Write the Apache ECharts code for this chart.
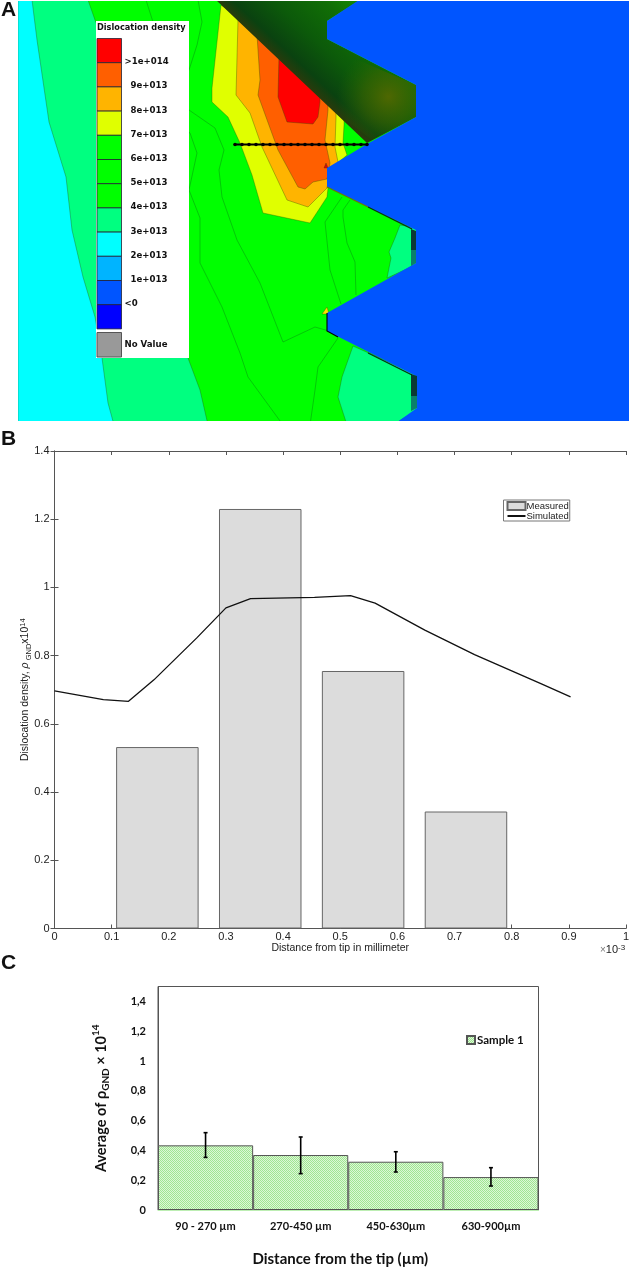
<!DOCTYPE html>
<html>
<head>
<meta charset="utf-8">
<style>html,body{margin:0;padding:0;background:#fff}#main{width:630px;height:1269px}</style>
<script src="https://cdn.jsdelivr.net/npm/echarts@6/dist/echarts.min.js"></script>
</head>
<body>
<div id="main"></div>
<script>
// panel A: contour bands, painted back to front
const bandColors = ['#00ffff', '#00ff80', '#00ff00', '#e0ff00', '#ffb400', '#ff5f00', '#ff0000'];
const bandOutlines = [
  [[18, 0], [640, 0], [640, 430], [18, 430]],
  [[32, 0], [37, 40], [49, 122], [66, 177], [72, 230], [83, 277], [95, 317], [102, 358], [108, 403], [114, 425], [640, 425], [640, 0]],
  [[88, 0], [95, 20], [118, 80], [188, 358], [200, 390], [208, 425], [640, 425], [640, 0]],
  [[221, 5], [212, 88], [212, 102], [228, 117], [240, 143], [252, 175], [263, 213], [310, 223], [327, 197], [330, 170], [347, 155], [343, 143], [344, 125], [344, 90]],
  [[238, 20], [236, 95], [250, 113], [262, 147], [287, 200], [308, 207], [327, 188], [330, 170], [338, 162], [335, 147], [336, 117], [336, 90]],
  [[257, 35], [260, 80], [258, 95], [278, 150], [298, 187], [305, 189], [313, 182], [327, 179], [330, 163], [325, 140], [328, 110], [328, 85]],
  [[279, 55], [278, 97], [287, 122], [313, 124], [318, 117], [320, 102], [320, 90]]
];
const toothColors = ['#00ff80', '#00ff80', '#ffe000', '#e00010'];
const toothOutlines = [
  [[400, 225], [395, 238], [389, 252], [391, 258], [387, 278], [420, 263], [420, 228]],
  [[353, 346], [342, 377], [338, 397], [347, 425], [393, 425], [420, 408], [420, 376]],
  [[322, 314], [327, 307], [329, 314]],
  [[324, 168], [326, 163], [328, 168]]
];
const contourLines = [
  [[146, 0], [153, 22], [165, 50]],
  [[198, 0], [202, 22], [197, 45], [189, 70], [180, 85]],
  [[180, 100], [189, 110], [215, 128], [224, 150], [219, 170], [222, 197], [237, 240], [260, 283], [283, 342], [315, 327], [329, 331]],
  [[180, 125], [190, 133], [197, 153], [189, 190], [200, 218], [200, 263], [222, 307], [240, 353], [248, 377], [283, 425]],
  [[342, 197], [325, 222], [330, 270], [341, 304]],
  [[350, 200], [343, 210], [343, 217], [347, 243], [355, 262], [356, 295]],
  [[338, 338], [318, 367], [315, 390], [310, 425]]
];
const faceOutline = [[216, 0], [367, 143], [416, 117], [416, 85], [327, 39], [327, 21], [360, 0]];
const oliveOutline = [[335, 50], [416, 85], [416, 117], [372, 140], [330, 108]];
const voidOutline = [[359, 0], [327, 21], [327, 39], [416, 85], [416, 117], [367, 144], [327, 168], [327, 187], [416, 230], [416, 263], [327, 313], [327, 331], [416, 376], [417, 408], [393, 425], [640, 425], [640, 0]];
const tipOutlines = [
  [[411, 229], [416, 231], [416, 250], [411, 250]],
  [[411, 250], [416, 250], [416, 263], [411, 266]],
  [[411, 374], [417, 376], [417, 396], [411, 396]],
  [[411, 396], [417, 396], [417, 408], [411, 411]]
];
const tipColors = ['#0a3a34', '#0a806a', '#0a3a34', '#0a806a'];
const edgeLines = [
  [[327, 187], [368, 207]],
  [[368, 207], [412, 229]],
  [[327, 313], [327, 331], [338, 337]],
  [[368, 353], [412, 375]]
];
const edgeColors = ['#6a7a00', '#0a2a10', '#000000', '#0a2a10'];
const scanX = [235, 242, 249, 256, 263, 270, 277, 284, 291, 298, 305, 312, 319, 326, 333, 340, 347, 354, 361, 367];
const scanY = 144.5;

const scaleTitle = 'Dislocation density';
const scaleColors = ['#ff0000', '#ff5f00', '#ffb400', '#e0ff00', '#00ff00', '#00ff00', '#00ff00', '#00ff80', '#00ffff', '#00b4ff', '#0055ff', '#0000ff'];
const scaleLabels = ['>1e+014', '9e+013', '8e+013', '7e+013', '6e+013', '5e+013', '4e+013', '3e+013', '2e+013', '1e+013', '<0'];

// panel B
const measuredX = [0.18, 0.36, 0.54, 0.72];
const measuredY = [0.532, 1.23, 0.755, 0.343];
const simulatedX = [0, 0.0855, 0.1295, 0.174, 0.249, 0.3, 0.343, 0.455, 0.518, 0.561, 0.648, 0.735, 0.852, 0.903];
const simulatedY = [0.697, 0.671, 0.666, 0.729, 0.852, 0.94, 0.967, 0.971, 0.976, 0.954, 0.875, 0.803, 0.717, 0.679];

// panel C
const sampleCats = ['90 - 270 µm', '270-450 µm', '450-630µm', '630-900µm'];
const sampleVals = [0.434, 0.369, 0.324, 0.221];
const sampleHigh = [0.519, 0.49, 0.391, 0.284];
const sampleLow = [0.353, 0.244, 0.255, 0.161];

const HELV = '"Liberation Sans", sans-serif';
const LATO = 'Lato, sans-serif';

// fine green dither of the bars in C
const tile = document.createElement('canvas');
tile.width = tile.height = 2;
const tc = tile.getContext('2d');
tc.fillStyle = '#dcf7d6';
tc.fillRect(0, 0, 2, 2);
tc.fillStyle = '#a0e592';
tc.fillRect(0, 0, 1, 1);
tc.fillRect(1, 1, 1, 1);

function polySeries(outlines, colors, stroke, z) {
  return {
    type: 'custom', xAxisIndex: 0, yAxisIndex: 0, z: z, clip: true, silent: true,
    data: outlines.map((o, i) => i),
    renderItem: (params, api) => ({
      type: 'polygon',
      shape: {points: outlines[params.dataIndex].map(p => api.coord(p))},
      style: {fill: colors[params.dataIndex], stroke: stroke, lineWidth: stroke ? 0.7 : 0}
    })
  };
}

// legend box of panel A
const scaleGraphics = [
  {type: 'rect', z: 100, shape: {x: 96, y: 21, width: 93, height: 337}, style: {fill: '#fff'}},
  {type: 'text', z: 101, x: 97, y: 28, style: {text: scaleTitle, font: 'bold 8.2px "DejaVu Sans"', fill: '#111', textVerticalAlign: 'middle'}},
  {type: 'rect', z: 101, shape: {x: 97, y: 332.5, width: 24.5, height: 24.5}, style: {fill: '#999', stroke: '#555', lineWidth: 1}},
  {type: 'text', z: 101, x: 124.5, y: 345, style: {text: 'No Value', font: 'bold 8.6px "DejaVu Sans"', fill: '#111', textVerticalAlign: 'middle'}}
];
scaleColors.forEach((c, i) => {
  scaleGraphics.push({type: 'rect', z: 101, shape: {x: 97, y: 38.5 + i * 24.2, width: 24.5, height: 24.2}, style: {fill: c, stroke: '#223', lineWidth: 0.8}});
});
scaleLabels.forEach((t, i) => {
  const wide = t[0] === '>' || t[0] === '<';
  scaleGraphics.push({type: 'text', z: 101, x: wide ? 124.5 : 130.5, y: 62 + i * 24.2, style: {text: t, font: 'bold 8.6px "DejaVu Sans"', fill: '#111', textVerticalAlign: 'middle'}});
});

const panelLetters = [['A', 1, 10], ['B', 1, 439], ['C', 1, 963]].map(l => ({
  type: 'text', z: 101, x: l[1], y: l[2],
  style: {text: l[0], font: 'bold 21px ' + HELV, fill: '#111', textVerticalAlign: 'middle'}
}));

let chart = echarts.init(document.getElementById('main'));
chart.setOption({
  animation: false,
  backgroundColor: '#fff',
  grid: [
    {left: 18, top: 1, width: 611, height: 420, outerBoundsMode: 'none'},
    {left: 54.5, top: 451, width: 571.5, height: 477.5, outerBoundsMode: 'none'},
    {left: 158, top: 986.5, width: 380.5, height: 223.5, show: true, borderColor: '#555', borderWidth: 1, outerBoundsMode: 'none'}
  ],
  xAxis: [
    {gridIndex: 0, type: 'value', min: 18, max: 629, show: false},
    {
      gridIndex: 1, type: 'value', min: 0, max: 1, interval: 0.1,
      axisLine: {show: true, onZero: false, lineStyle: {color: '#555'}},
      axisTick: {show: true, inside: true, length: 4, lineStyle: {color: '#555'}},
      axisLabel: {color: '#222', fontFamily: HELV, fontSize: 11, margin: 3, hideOverlap: false},
      splitLine: {show: false},
      name: 'Distance from tip in millimeter', nameLocation: 'middle', nameGap: 14, nameMoveOverlap: false,
      nameTextStyle: {color: '#222', fontFamily: HELV, fontSize: 10.5}
    },
    {
      gridIndex: 1, type: 'value', min: 0, max: 1, interval: 0.1, position: 'top',
      axisLine: {show: true, onZero: false, lineStyle: {color: '#555'}},
      axisTick: {show: true, inside: true, length: 4, lineStyle: {color: '#555'}},
      axisLabel: {show: false}, splitLine: {show: false}
    },
    {
      gridIndex: 2, type: 'category', data: sampleCats,
      // same tone as the bars: the reference has no dark base line
      axisLine: {show: true, lineStyle: {color: '#bdeeb3'}},
      axisTick: {show: false},
      axisLabel: {color: '#111', fontFamily: LATO, fontWeight: 'bold', fontSize: 11, margin: 11, interval: 0},
      name: 'Distance from the tip (µm)', nameLocation: 'middle', nameGap: 42, nameMoveOverlap: false,
      nameTextStyle: {color: '#111', fontFamily: LATO, fontWeight: 'bold', fontSize: 15, padding: [0, 16, 0, 0]}
    }
  ],
  yAxis: [
    {gridIndex: 0, type: 'value', min: 1, max: 421, inverse: true, show: false},
    {
      gridIndex: 1, type: 'value', min: 0, max: 1.4, interval: 0.2,
      axisLine: {show: true, lineStyle: {color: '#555'}},
      axisTick: {show: true, inside: true, length: 4, lineStyle: {color: '#555'}},
      axisLabel: {color: '#222', fontFamily: HELV, fontSize: 11, margin: 5, hideOverlap: false},
      splitLine: {show: false},
      name: '{b|Dislocation density, }{i|ρ}{s| GND}{b|x10}{u|14}', nameLocation: 'middle', nameGap: 22, nameMoveOverlap: false,
      nameTextStyle: {
        color: '#222',
        rich: {
          b: {fontFamily: HELV, fontSize: 10.5, color: '#222', lineHeight: 14},
          i: {fontFamily: HELV, fontSize: 10.5, fontStyle: 'italic', color: '#222', lineHeight: 14},
          s: {fontFamily: HELV, fontSize: 7.5, color: '#222', verticalAlign: 'bottom', lineHeight: 14},
          u: {fontFamily: HELV, fontSize: 7.5, color: '#222', verticalAlign: 'top', lineHeight: 14}
        }
      }
    },
    {
      gridIndex: 1, type: 'value', min: 0, max: 1.4, interval: 0.2, position: 'right',
      axisLine: {show: true, lineStyle: {color: '#555'}},
      axisTick: {show: true, inside: true, length: 4, lineStyle: {color: '#555'}},
      axisLabel: {show: false}, splitLine: {show: false}
    },
    {
      gridIndex: 2, type: 'value', min: 0, max: 1.5, interval: 0.2,
      axisLine: {show: true, lineStyle: {color: '#555'}},
      axisTick: {show: false},
      splitLine: {show: false},
      axisLabel: {
        color: '#111', fontFamily: LATO, fontWeight: 'bold', fontSize: 11, margin: 12, showMaxLabel: false,
        formatter: v => String(v).replace('.', ',')
      },
      name: '{b|Average of ρ}{s|GND}{b| × 10}{u|14}', nameLocation: 'middle', nameGap: 47, nameMoveOverlap: false,
      nameTextStyle: {
        rich: {
          b: {fontFamily: LATO, fontWeight: 'bold', fontSize: 14.5, color: '#111', lineHeight: 20},
          s: {fontFamily: LATO, fontWeight: 'bold', fontSize: 10, color: '#111', verticalAlign: 'bottom', lineHeight: 18},
          u: {fontFamily: LATO, fontWeight: 'bold', fontSize: 10, color: '#111', verticalAlign: 'top', lineHeight: 20}
        }
      }
    }
  ],
  legend: [
    {
      data: [{name: 'Measured', icon: 'rect'}, {name: 'Simulated'}], orient: 'vertical', left: 503.5, top: 500,
      padding: [1, 1, 0, 3], itemGap: 0, itemWidth: 18, itemHeight: 8, selectedMode: false,
      backgroundColor: '#fff', borderColor: '#777', borderWidth: 1, borderRadius: 0,
      textStyle: {color: '#222', fontFamily: HELV, fontSize: 9.5, padding: [0, 0, 0, -4]}
    },
    {
      data: [{name: 'Sample 1', icon: 'rect'}], left: 466, top: 1034, padding: 0, itemWidth: 8, itemHeight: 8, selectedMode: false,
      textStyle: {color: '#111', fontFamily: LATO, fontWeight: 'bold', fontSize: 11.5, padding: [0, 0, 0, -3]}
    }
  ],
  graphic: {
    elements: scaleGraphics.concat(panelLetters, [{
      type: 'text', z: 101, x: 600, y: 950,
      style: {
        text: '{x|×}{b|10}{u|-3}', fill: '#222', textVerticalAlign: 'middle',
        rich: {
          x: {font: '10px ' + HELV, fill: '#777'},
          b: {font: '11px ' + HELV, fill: '#222', lineHeight: 13},
          u: {font: '8px ' + HELV, fill: '#222', verticalAlign: 'top', lineHeight: 13}
        }
      }
    }])
  },
  series: [
    polySeries(bandOutlines, bandColors, 'rgba(40,80,0,0.5)', 2),
    polySeries(toothOutlines, toothColors, 'rgba(40,80,0,0.5)', 3),
    {
      type: 'custom', xAxisIndex: 0, yAxisIndex: 0, z: 4, clip: true, silent: true,
      data: contourLines.map((o, i) => i),
      renderItem: (params, api) => ({
        type: 'polyline',
        shape: {points: contourLines[params.dataIndex].map(p => api.coord(p))},
        style: {fill: null, stroke: 'rgba(10,90,20,0.55)', lineWidth: 0.6}
      })
    },
    {
      type: 'custom', xAxisIndex: 0, yAxisIndex: 0, z: 5, clip: true, silent: true,
      data: [0],
      renderItem: (params, api) => {
        const a = api.coord([292, 72]);
        const b = api.coord([359, 0]);
        return {
          type: 'polygon',
          shape: {points: faceOutline.map(p => api.coord(p))},
          style: {
            fill: new echarts.graphic.LinearGradient(a[0], a[1], b[0], b[1], [
              {offset: 0, color: '#2a3a0c'},
              {offset: 0.12, color: '#0a4210'},
              {offset: 0.4, color: '#0c5a0a'},
              {offset: 0.75, color: '#116e06'},
              {offset: 1, color: '#128a00'}
            ], true)
          }
        };
      }
    },
    {
      type: 'custom', xAxisIndex: 0, yAxisIndex: 0, z: 6, clip: true, silent: true,
      data: [0],
      renderItem: (params, api) => ({
        type: 'polygon',
        shape: {points: oliveOutline.map(p => api.coord(p))},
        style: {
          fill: new echarts.graphic.RadialGradient(0.68, 0.52, 0.6, [
            {offset: 0, color: 'rgba(90,105,0,0.85)'},
            {offset: 0.5, color: 'rgba(70,100,0,0.5)'},
            {offset: 1, color: 'rgba(40,100,0,0)'}
          ])
        }
      })
    },
    polySeries([voidOutline], ['#0055ff'], null, 7),
    polySeries(tipOutlines, tipColors, null, 8),
    {
      type: 'custom', xAxisIndex: 0, yAxisIndex: 0, z: 8, clip: true, silent: true,
      data: edgeLines.map((o, i) => i),
      renderItem: (params, api) => ({
        type: 'polyline',
        shape: {points: edgeLines[params.dataIndex].map(p => api.coord(p))},
        style: {fill: null, stroke: edgeColors[params.dataIndex], lineWidth: 1.1}
      })
    },
    {
      type: 'line', xAxisIndex: 0, yAxisIndex: 0, z: 9, silent: true,
      data: scanX.map(x => [x, scanY]),
      symbol: 'circle', symbolSize: 3.6, showSymbol: true,
      itemStyle: {color: '#000'},
      lineStyle: {color: '#000', width: 2.2}
    },
    {
      name: 'Measured', type: 'bar', xAxisIndex: 1, yAxisIndex: 1, barWidth: 82.5, z: 2,
      data: measuredX.map((x, i) => [x, measuredY[i]]),
      itemStyle: {color: '#dcdcdc', borderColor: '#666', borderWidth: 1}
    },
    {
      name: 'Simulated', type: 'line', xAxisIndex: 1, yAxisIndex: 1, z: 3, symbol: 'none',
      data: simulatedX.map((x, i) => [x, simulatedY[i]]),
      lineStyle: {color: '#111', width: 1.3},
      // hides the dot that the legend would draw on the line
      itemStyle: {color: '#111', opacity: 0}
    },
    {
      name: 'Sample 1', type: 'bar', xAxisIndex: 3, yAxisIndex: 3, barCategoryGap: 0, z: 2,
      data: sampleVals,
      itemStyle: {color: {image: tile, repeat: 'repeat'}, borderColor: '#555', borderWidth: 1}
    },
    {
      type: 'custom', xAxisIndex: 3, yAxisIndex: 3, z: 3, silent: true,
      data: sampleCats.map((c, i) => [i, sampleLow[i], sampleHigh[i]]),
      renderItem: (params, api) => {
        const lo = api.coord([api.value(0), api.value(1)]);
        const hi = api.coord([api.value(0), api.value(2)]);
        const st = {stroke: '#000', lineWidth: 1.6};
        return {
          type: 'group',
          children: [
            {type: 'line', shape: {x1: lo[0], y1: lo[1], x2: hi[0], y2: hi[1]}, style: st},
            {type: 'line', shape: {x1: lo[0] - 2, y1: lo[1], x2: lo[0] + 2, y2: lo[1]}, style: st},
            {type: 'line', shape: {x1: hi[0] - 2, y1: hi[1], x2: hi[0] + 2, y2: hi[1]}, style: st}
          ]
        };
      }
    }
  ]
});
</script>
</body>
</html>
